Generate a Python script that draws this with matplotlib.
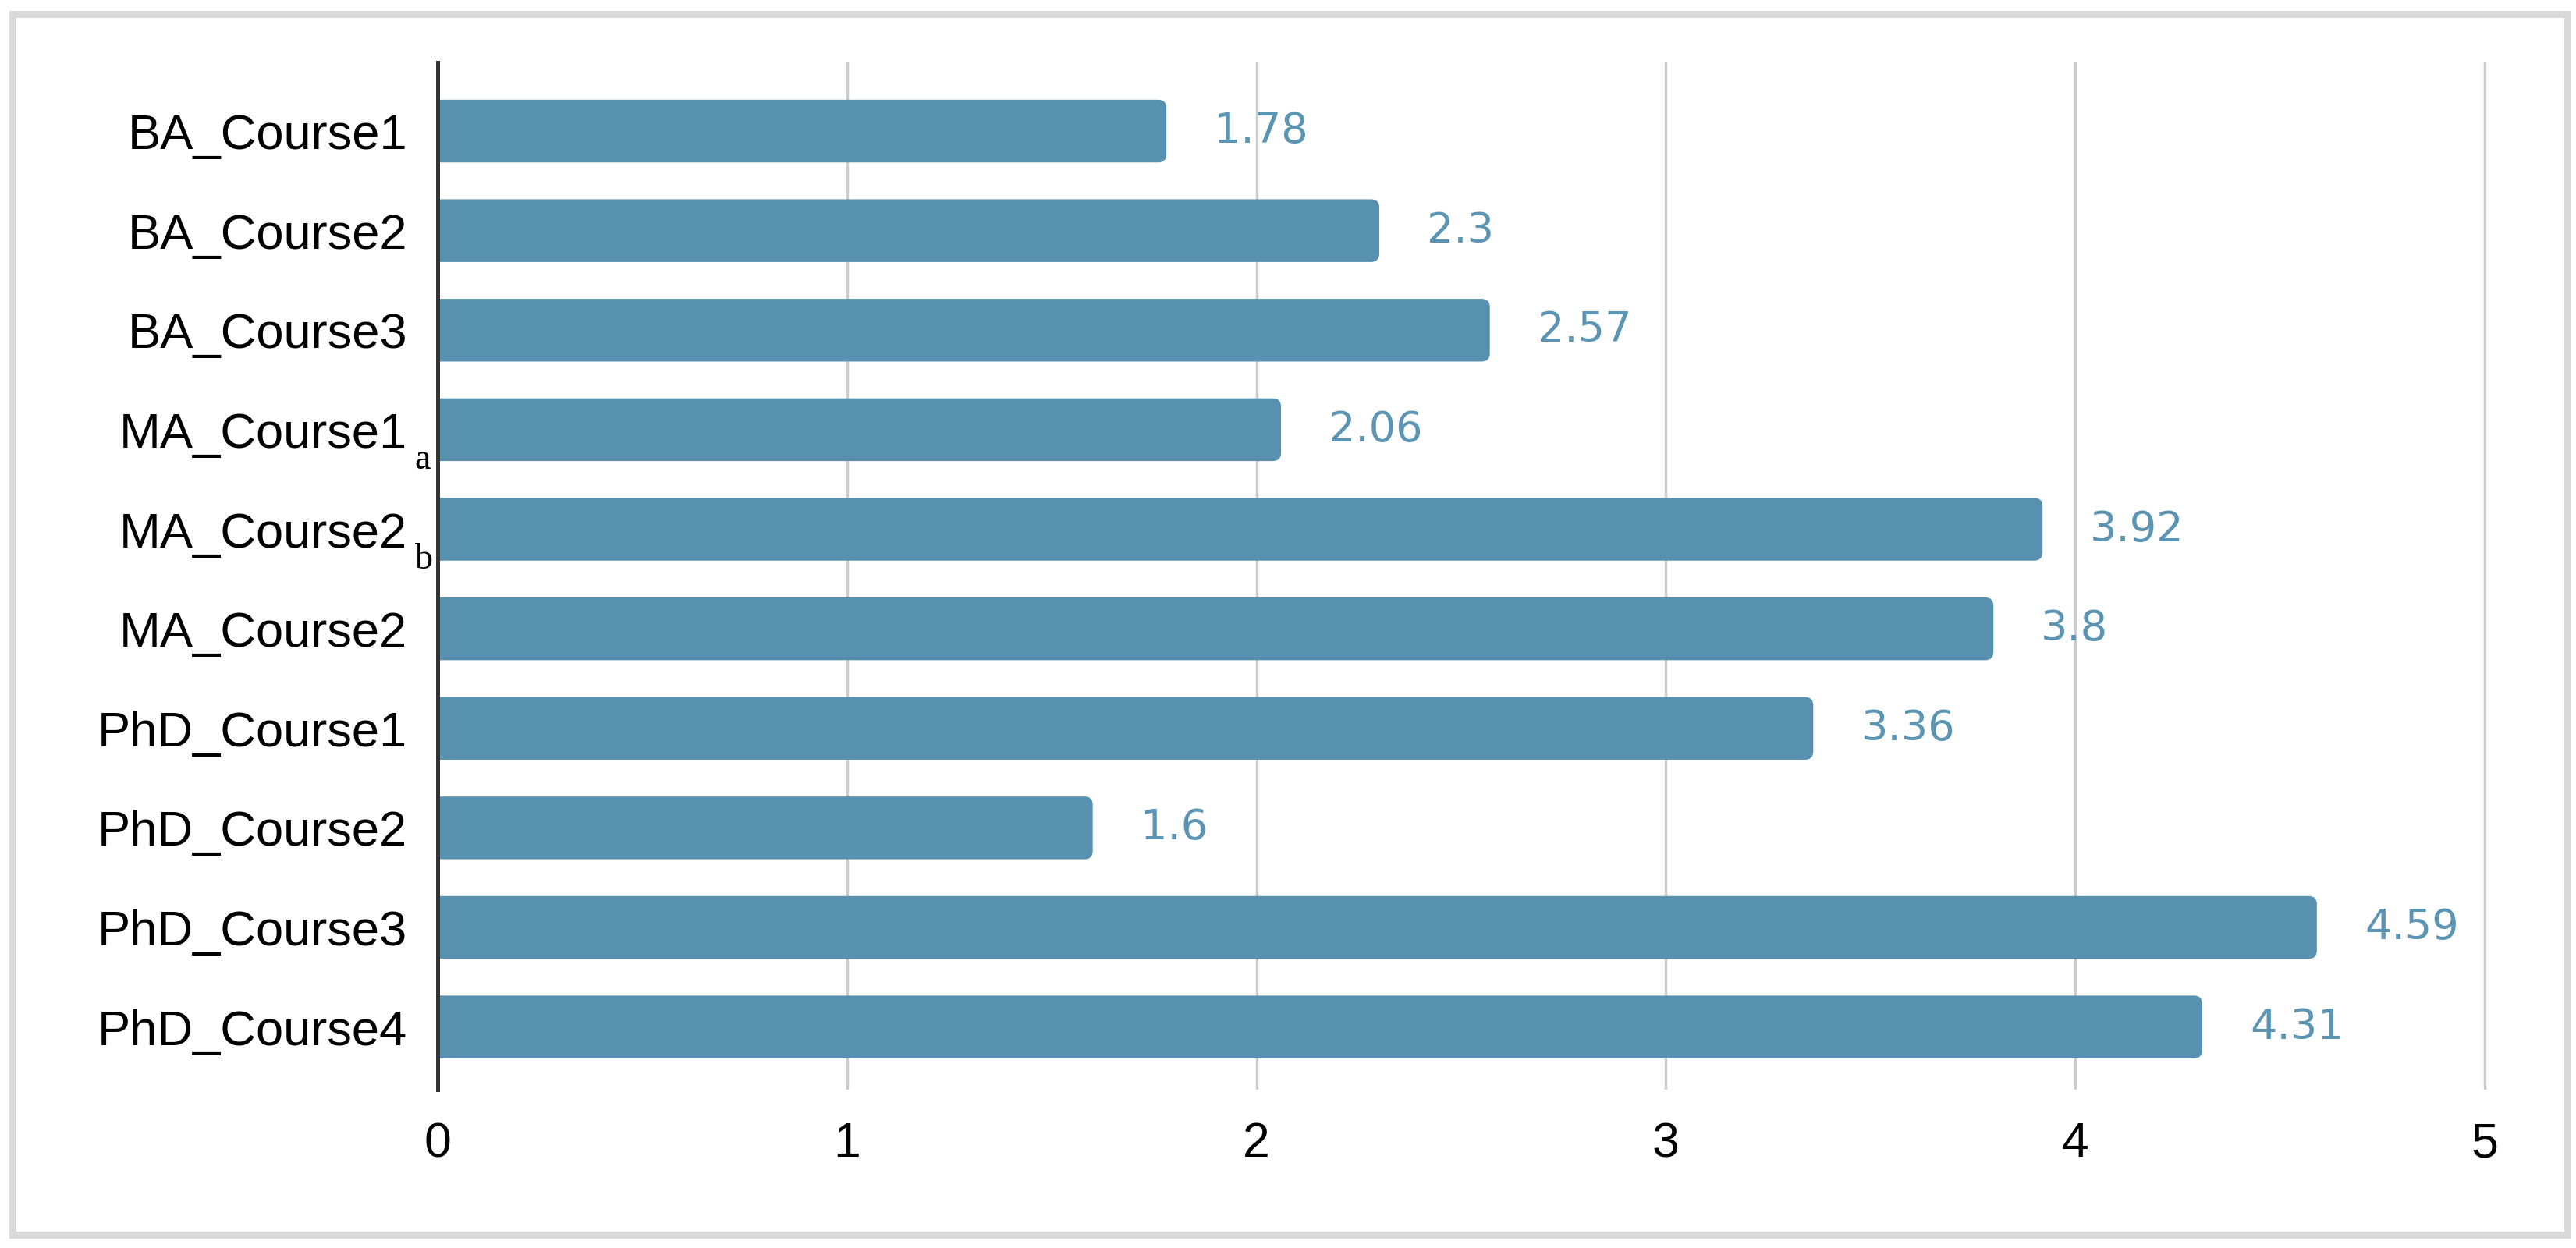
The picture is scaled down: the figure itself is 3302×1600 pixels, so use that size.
import matplotlib
matplotlib.use("Agg")
import matplotlib.pyplot as plt
from matplotlib.patches import Rectangle, FancyBboxPatch

# data
courses = ["BA_Course1", "BA_Course2", "BA_Course3", "MA_Course1", "MA_Course2",
           "MA_Course2", "PhD_Course1", "PhD_Course2", "PhD_Course3", "PhD_Course4"]
subscripts = ["", "", "", "a", "b", "", "", "", "", ""]
scores = [1.78, 2.3, 2.57, 2.06, 3.92, 3.8, 3.36, 1.6, 4.59, 4.31]
xticks = [0, 1, 2, 3, 4, 5]

bar_color = "#5891af"
label_color = "#5b95b3"

W, H = 3302, 1600
fig = plt.figure(figsize=(W / 100, H / 100), dpi=100)
fig.patch.set_facecolor("white")

# axes box in pixels (left, top, right, bottom)
x0, y0, x1, y1 = 561, 80, 561 + 5.02 * 524.8, 1397
ax = fig.add_axes([x0 / W, 1 - y1 / H, (x1 - x0) / W, (y1 - y0) / H])

pos = list(range(len(courses)))
bars = ax.barh(pos, scores, height=0.63, color=bar_color)

ax.set_xlim(0, 5.02)
ax.set_ylim(9.63, -0.69)

# swap the plain bars for ones with rounded right ends
px_x = 524.8
px_y = (y1 - y0) / (9.63 + 0.69)
aspect = px_x / px_y
for b in bars:
    bx, by, bw, bh = b.get_x(), b.get_y(), b.get_width(), b.get_height()
    b.set_visible(False)
    p = FancyBboxPatch((bx - 0.05, by), bw + 0.05, bh,
                       boxstyle="round,pad=0,rounding_size=0.02",
                       mutation_aspect=aspect, fc=bar_color, ec="none",
                       zorder=2)
    ax.add_patch(p)

# value labels
for i, v in enumerate(scores):
    ax.annotate(f"{v:g}", xy=(v, i), xytext=(44, 0), textcoords="offset points",
                ha="left", va="center", color=label_color,
                fontsize=39, family="DejaVu Sans")

ax.set_yticks(pos)
ax.set_yticklabels(courses, fontsize=45.5, family="Liberation Sans")
ax.set_xticks(xticks)
ax.set_xticklabels([str(t) for t in xticks], fontsize=45, family="Liberation Sans")
ax.tick_params(axis="y", length=0, pad=28)
ax.tick_params(axis="x", length=0, pad=29)

# small serif subscripts after two labels
for i, s in enumerate(subscripts):
    if s:
        ax.annotate(s, xy=(0, i), xycoords=ax.get_yaxis_transform(),
                    xytext=(-21, -36), textcoords="offset points",
                    ha="left", va="baseline", fontsize=33,
                    family="Liberation Serif", annotation_clip=False)

ax.grid(axis="x", color="#cccccc", linewidth=2.5, zorder=0)
ax.set_axisbelow(True)
for side in ["top", "right", "bottom"]:
    ax.spines[side].set_visible(False)
ax.spines["left"].set_color("#333333")
ax.spines["left"].set_linewidth(3.6)
ax.spines["left"].set_zorder(5)

# outer light grey frame
fig.patches.append(Rectangle((16 / W, 1 - 1583 / H), (3291 - 16) / W, (1583 - 18) / H,
                             transform=fig.transFigure, fill=False,
                             ec="#d9d9d9", lw=6.5))

fig.savefig("out.png", dpi=100)
